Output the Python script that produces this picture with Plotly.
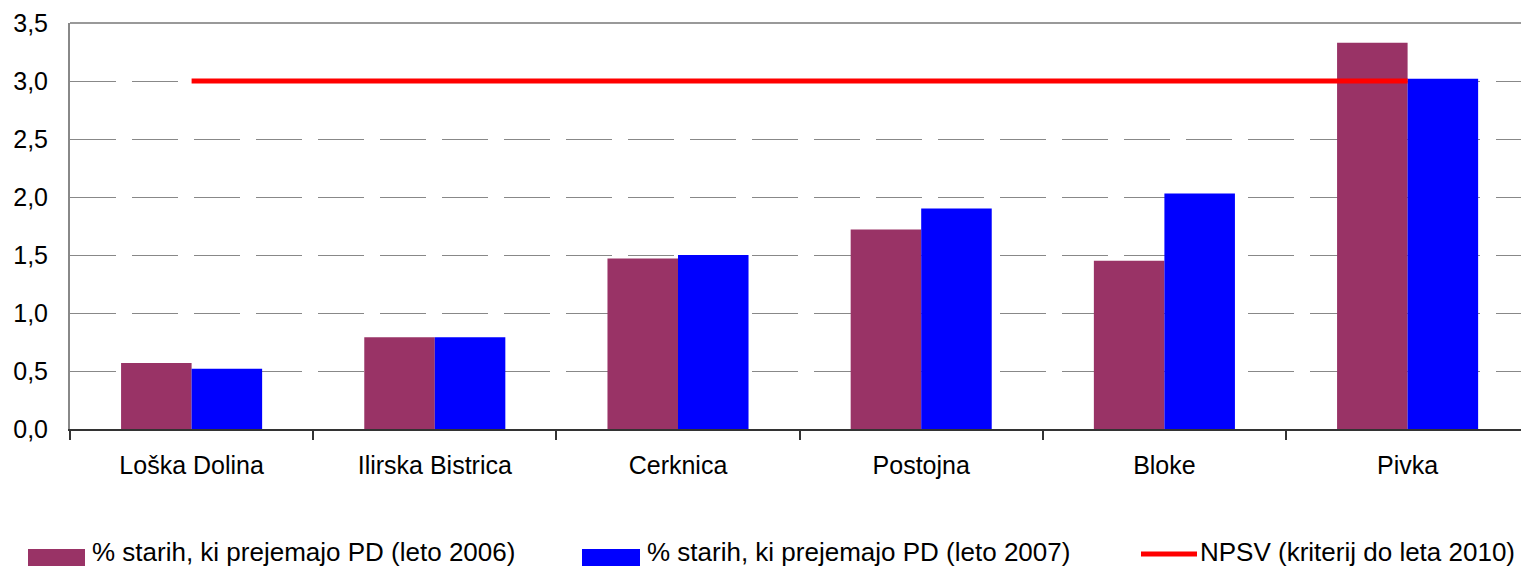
import plotly.graph_objects as go

# data
obcine = ['Loška Dolina', 'Ilirska Bistrica', 'Cerknica', 'Postojna', 'Bloke', 'Pivka']
leto_2006 = [0.57, 0.79, 1.47, 1.72, 1.45, 3.33]
leto_2007 = [0.52, 0.79, 1.50, 1.90, 2.03, 3.02]
npsv = [3.0, 3.0, 3.0, 3.0, 3.0, 3.0]
imena = [
    '% starih, ki prejemajo PD (leto 2006)',
    '% starih, ki prejemajo PD (leto 2007)',
    'NPSV (kriterij do leta 2010)',
]
barve = ['#993366', '#0000FF', '#FF0000']

W, H = 1521, 567
L, T, B = 70, 23, 138
PW, PH = W - L, H - T - B
FONT = 'Liberation Sans, Arial, sans-serif'


def px2x(px):
    return (px - L) / PW


def py2y(py):
    return (H - B - py) / PH


fig = go.Figure()
fig.add_trace(go.Bar(x=obcine, y=leto_2006, name=imena[0], marker_color=barve[0],
                     marker_line_width=0))
fig.add_trace(go.Bar(x=obcine, y=leto_2007, name=imena[1], marker_color=barve[1],
                     marker_line_width=0))
fig.add_trace(go.Scatter(x=obcine, y=npsv, name=imena[2], mode='lines',
                         line=dict(color=barve[2], width=5)))

# hand made legend below the plot (wide swatches like the original)
shapes = [
    dict(type='line', xref='paper', yref='paper', x0=0, x1=1, y0=1, y1=1,
         line=dict(color='#999999', width=2)),
    dict(type='rect', xref='paper', yref='paper', x0=px2x(28), x1=px2x(85),
         y0=py2y(549), y1=py2y(566), fillcolor=barve[0], line_width=0),
    dict(type='rect', xref='paper', yref='paper', x0=px2x(582), x1=px2x(640),
         y0=py2y(549), y1=py2y(566), fillcolor=barve[1], line_width=0),
    dict(type='line', xref='paper', yref='paper', x0=px2x(1141), x1=px2x(1197),
         y0=py2y(554), y1=py2y(554), line=dict(color=barve[2], width=5)),
]
annotations = []
for ime, xpx in zip(imena, [90, 645, 1198]):
    annotations.append(dict(text=ime, xref='paper', yref='paper', x=px2x(xpx), y=py2y(552),
                            xanchor='left', yanchor='middle', showarrow=False,
                            font=dict(family=FONT, size=26, color='black')))

fig.update_layout(
    width=W, height=H,
    margin=dict(l=L, r=0, t=T, b=B, pad=0),
    paper_bgcolor='white', plot_bgcolor='white',
    separators=', ',
    barmode='group', bargap=0.42, bargroupgap=0,
    showlegend=False,
    font=dict(family=FONT, size=25, color='black'),
    shapes=shapes,
    annotations=annotations,
)
fig.update_xaxes(
    range=[-0.5, -0.5 + PW / 243.2],
    showline=True, linecolor='#333333', linewidth=1.5,
    ticks='outside', tickson='boundaries', ticklen=9, tickcolor='#333333', tickwidth=1.5,
    ticklabelstandoff=13,
    showgrid=False,
)
fig.update_yaxes(
    range=[0, 3.5], dtick=0.5, tickformat='.1f',
    showline=True, linecolor='#888888', linewidth=2,
    showgrid=True, gridcolor='#888888', gridwidth=1, griddash='46px,16px',
    zeroline=False, ticks='', ticklabelstandoff=15,
)

# page body has a default margin; drop it so the figure fills the window exactly
fig.write_html('out.html', config={'displayModeBar': False},
               post_script="document.body.style.margin='0px';")
